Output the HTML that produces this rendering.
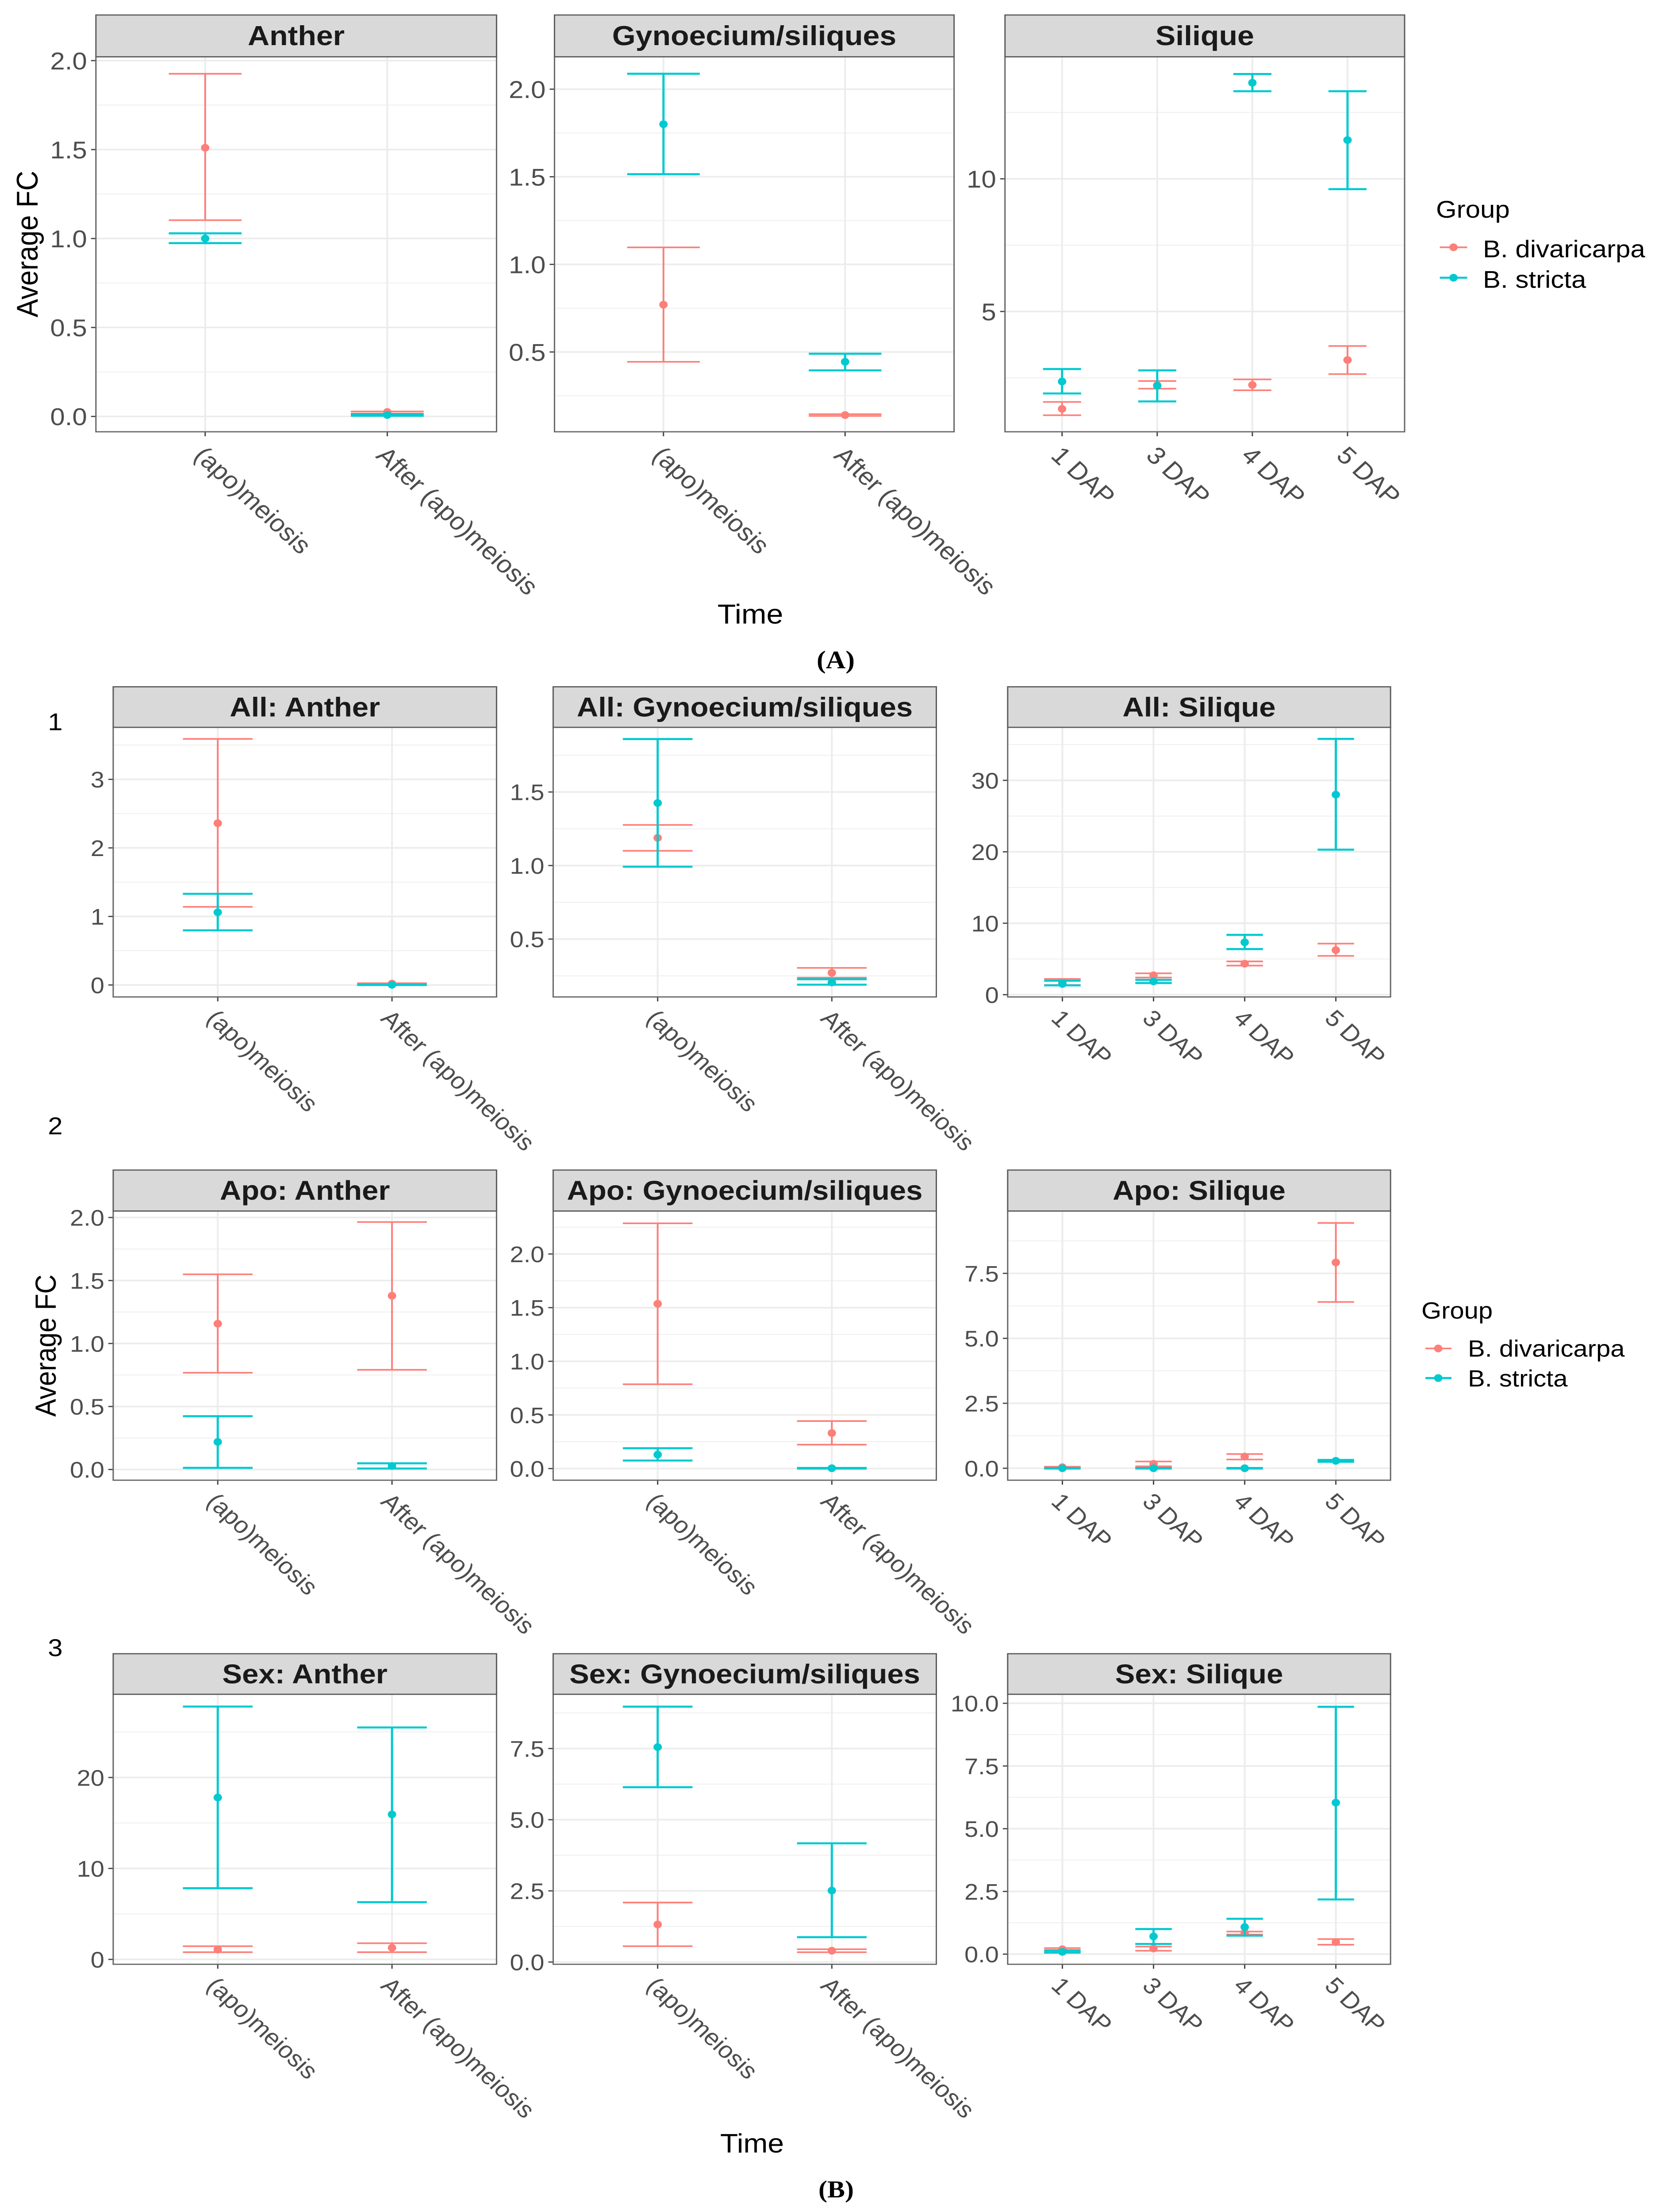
<!DOCTYPE html>
<html lang="en">
<head>
<meta charset="utf-8">
<title>Average FC by time, group and tissue</title>
<style>
html,body{margin:0;padding:0;background:#fff;width:100vw;height:100vh;overflow:hidden;}
svg{display:block;position:fixed;left:0;top:0;width:100vw;height:100vh;overflow:hidden;font-family:"Liberation Sans",Arial,sans-serif;}
</style>
</head>
<body>
<svg id="chart" xmlns="http://www.w3.org/2000/svg" viewBox="0 0 3741 5456" preserveAspectRatio="none">
  <rect x="0" y="0" width="3741" height="5456" fill="#ffffff"/>
  <g id="panels"></g>

  <text x="85" y="602" transform="rotate(-90 85 602)" text-anchor="middle" font-size="68" fill="#000">Average FC</text>
  <text x="1696" y="1538" text-anchor="middle" font-size="68" fill="#000">Time</text>
  <text x="1889" y="1648" text-anchor="middle" font-size="62" font-weight="bold" font-family="Liberation Serif, serif" fill="#000">(A)</text>

  <text x="125" y="1801" text-anchor="middle" font-size="60" fill="#000">1</text>
  <text x="125" y="2798" text-anchor="middle" font-size="60" fill="#000">2</text>
  <text x="125" y="4085" text-anchor="middle" font-size="60" fill="#000">3</text>

  <text x="126" y="3319" transform="rotate(-90 126 3319)" text-anchor="middle" font-size="66" fill="#000">Average FC</text>
  <text x="1700" y="5309" text-anchor="middle" font-size="66" fill="#000">Time</text>
  <text x="1890" y="5420" text-anchor="middle" font-size="60" font-weight="bold" font-family="Liberation Serif, serif" fill="#000">(B)</text>

  <g>
    <text x="3246" y="537" font-size="60" fill="#000">Group</text>
    <g>
      <line x1="3254.6" x2="3316.4" y1="610" y2="610" stroke="#FD7F79" stroke-width="4"/>
      <circle cx="3285.5" cy="610" r="9.5" fill="#FD7F79"/>
      <text x="3352" y="634.5" font-size="60" fill="#000">B. divaricarpa</text>
    </g>
    <g>
      <line x1="3254.6" x2="3316.4" y1="685" y2="685" stroke="#00C9D0" stroke-width="5"/>
      <circle cx="3285.5" cy="685" r="9.5" fill="#00C9D0"/>
      <text x="3352" y="710" font-size="60" fill="#000">B. stricta</text>
    </g>
  </g>

  <g>
    <text x="3213" y="3252.6" font-size="58" fill="#000">Group</text>
    <g>
      <line x1="3222" x2="3281" y1="3326" y2="3326" stroke="#FD7F79" stroke-width="4"/>
      <circle cx="3251" cy="3326" r="9.5" fill="#FD7F79"/>
      <text x="3318" y="3346" font-size="58" fill="#000">B. divaricarpa</text>
    </g>
    <g>
      <line x1="3222" x2="3281" y1="3399" y2="3399" stroke="#00C9D0" stroke-width="5"/>
      <circle cx="3251" cy="3399" r="9.5" fill="#00C9D0"/>
      <text x="3318" y="3420" font-size="58" fill="#000">B. stricta</text>
    </g>
  </g>
</svg>

<script>
// ---- categories ----
const meiosisCategories = ["(apo)meiosis", "After (apo)meiosis"];
const dapCategories = ["1 DAP", "3 DAP", "4 DAP", "5 DAP"];

// ---- tick labels ----
const aAntherTicks = ["0.0", "0.5", "1.0", "1.5", "2.0"];
const aGynTicks = ["0.5", "1.0", "1.5", "2.0"];
const aSilTicks = ["5", "10"];
const allAntherTicks = ["0", "1", "2", "3"];
const allGynTicks = ["0.5", "1.0", "1.5"];
const allSilTicks = ["0", "10", "20", "30"];
const apoAntherTicks = ["0.0", "0.5", "1.0", "1.5", "2.0"];
const apoGynTicks = ["0.0", "0.5", "1.0", "1.5", "2.0"];
const apoSilTicks = ["0.0", "2.5", "5.0", "7.5"];
const sexAntherTicks = ["0", "10", "20"];
const sexGynTicks = ["0.0", "2.5", "5.0", "7.5"];
const sexSilTicks = ["0.0", "2.5", "5.0", "7.5", "10.0"];

// ---- series values: (A) Anther ----
const aAntherDivMean = [1.51, 0.025];
const aAntherDivLow = [1.103, 0.016];
const aAntherDivHigh = [1.926, 0.028];
const aAntherStrMean = [1.0, 0.008];
const aAntherStrLow = [0.974, 0.004];
const aAntherStrHigh = [1.029, 0.012];
// (A) Gynoecium/siliques
const aGynDivMean = [0.77, 0.14];
const aGynDivLow = [0.444, 0.135];
const aGynDivHigh = [1.097, 0.145];
const aGynStrMean = [1.8, 0.444];
const aGynStrLow = [1.515, 0.395];
const aGynStrHigh = [2.088, 0.49];
// (A) Silique
const aSilDivMean = [1.33, 2.22, 2.23, 3.17];
const aSilDivLow = [1.09, 2.09, 2.03, 2.64];
const aSilDivHigh = [1.59, 2.38, 2.44, 3.7];
const aSilStrMean = [2.36, 2.2, 13.62, 11.46];
const aSilStrLow = [1.91, 1.61, 13.3, 9.61];
const aSilStrHigh = [2.83, 2.78, 13.95, 13.3];
// All: Anther
const allAntherDivMean = [2.36, 0.02];
const allAntherDivLow = [1.14, 0.008];
const allAntherDivHigh = [3.59, 0.026];
const allAntherStrMean = [1.06, 0.002];
const allAntherStrLow = [0.797, 0.0];
const allAntherStrHigh = [1.33, 0.006];
// All: Gynoecium/siliques
const allGynDivMean = [1.188, 0.271];
const allGynDivLow = [1.1, 0.238];
const allGynDivHigh = [1.276, 0.304];
const allGynStrMean = [1.425, 0.205];
const allGynStrLow = [0.992, 0.19];
const allGynStrHigh = [1.86, 0.227];
// All: Silique
const allSilDivMean = [1.63, 2.71, 4.34, 6.24];
const allSilDivLow = [1.36, 2.4, 4.07, 5.43];
const allSilDivHigh = [2.2, 2.99, 4.66, 7.15];
const allSilStrMean = [1.5, 1.86, 7.33, 28.0];
const allSilStrLow = [1.3, 1.63, 6.38, 20.3];
const allSilStrHigh = [1.95, 2.08, 8.37, 35.8];
// Apo: Anther
const apoAntherDivMean = [1.157, 1.379];
const apoAntherDivLow = [0.768, 0.791];
const apoAntherDivHigh = [1.549, 1.964];
const apoAntherStrMean = [0.219, 0.028];
const apoAntherStrLow = [0.013, 0.008];
const apoAntherStrHigh = [0.423, 0.049];
// Apo: Gynoecium/siliques
const apoGynDivMean = [1.536, 0.331];
const apoGynDivLow = [0.786, 0.223];
const apoGynDivHigh = [2.286, 0.443];
const apoGynStrMean = [0.13, 0.003];
const apoGynStrLow = [0.075, 0.0];
const apoGynStrHigh = [0.19, 0.006];
// Apo: Silique
const apoSilDivMean = [0.04, 0.17, 0.45, 7.92];
const apoSilDivLow = [0.02, 0.075, 0.336, 6.4];
const apoSilDivHigh = [0.06, 0.26, 0.547, 9.44];
const apoSilStrMean = [0.0, 0.0, 0.0, 0.286];
const apoSilStrLow = [-0.01, -0.01, -0.01, 0.25];
const apoSilStrHigh = [0.01, 0.01, 0.01, 0.32];
// Sex: Anther
const sexAntherDivMean = [1.08, 1.28];
const sexAntherDivLow = [0.79, 0.79];
const sexAntherDivHigh = [1.45, 1.78];
const sexAntherStrMean = [17.8, 15.94];
const sexAntherStrLow = [7.83, 6.29];
const sexAntherStrHigh = [27.8, 25.5];
// Sex: Gynoecium/siliques
const sexGynDivMean = [1.32, 0.397];
const sexGynDivLow = [0.556, 0.344];
const sexGynDivHigh = [2.09, 0.45];
const sexGynStrMean = [7.55, 2.51];
const sexGynStrLow = [6.14, 0.873];
const sexGynStrHigh = [8.97, 4.17];
// Sex: Silique
const sexSilDivMean = [0.195, 0.225, 0.855, 0.48];
const sexSilDivLow = [0.105, 0.135, 0.78, 0.375];
const sexSilDivHigh = [0.24, 0.3, 0.9, 0.6];
const sexSilStrMean = [0.09, 0.706, 1.08, 6.04];
const sexSilStrLow = [0.06, 0.405, 0.736, 2.18];
const sexSilStrHigh = [0.15, 1.0, 1.41, 9.86];

// ---- layout (not data) ----
const NS = "http://www.w3.org/2000/svg";
const RED = "#FD7F79";
const TEAL = "#00C9D0";
const rowA = {stripTop: 37, top: 140, bottom: 1065, tickSize: 60, xSize: 60, xOff: 62, stripSize: 68};
const rowAll = {stripTop: 1694, top: 1794, bottom: 2459, tickSize: 56, xSize: 57, xOff: 56, stripSize: 67};
const rowApo = {stripTop: 2886, top: 2987, bottom: 3651, tickSize: 56, xSize: 57, xOff: 56, stripSize: 67};
const rowSex = {stripTop: 4079, top: 4179, bottom: 4845, tickSize: 56, xSize: 57, xOff: 56, stripSize: 67};
const colsA = [[216.8, 1122.4], [1253.4, 2156.6], [2271.7, 3175]];
const colsB = [[255.9, 1122.4], [1250.4, 2116.5], [2277.8, 3143.2]];

function make(tag, attrs, parent, text) {
  const el = document.createElementNS(NS, tag);
  for (const k in attrs) el.setAttribute(k, attrs[k]);
  if (text !== undefined) el.textContent = text;
  parent.appendChild(el);
  return el;
}

function xScale(i, n, left, right) {
  return left + (i + 0.6) / (n + 0.2) * (right - left);
}
function yScale(v, domain, row) {
  return row.bottom - (v - domain[0]) / (domain[1] - domain[0]) * (row.bottom - row.top);
}

function drawSeries(group, key, color, width, cats, mean, low, high, domain, row, col) {
  const n = cats.length;
  const unit = (col[1] - col[0]) / (n + 0.2);
  cats.forEach(function (cat, i) {
    const cx = xScale(i, n, col[0], col[1]);
    const yHi = yScale(high[i], domain, row);
    const yLo = yScale(low[i], domain, row);
    const yMean = yScale(mean[i], domain, row);
    const bar = make("g", {}, group);
    
    
    make("line", {x1: cx, x2: cx, y1: yHi, y2: yLo, stroke: color, "stroke-width": width}, bar);
    make("line", {x1: cx - 0.2 * unit, x2: cx + 0.2 * unit, y1: yHi, y2: yHi, stroke: color, "stroke-width": width}, bar);
    make("line", {x1: cx - 0.2 * unit, x2: cx + 0.2 * unit, y1: yLo, y2: yLo, stroke: color, "stroke-width": width}, bar);
    const dot = make("circle", {cx: cx, cy: yMean, r: 9.5, fill: color}, group);
    
    
  });
}

function drawPanel(p) {
  const root = document.getElementById("panels");
  const row = p.row, col = p.col, domain = p.domain;
  const left = col[0], right = col[1];
  const g = make("g", {}, root);
  
  

  const bg = make("rect", {x: left, y: row.top, width: right - left, height: row.bottom - row.top, fill: "#fff"}, g);
  
  

  // horizontal gridlines and y axis
  const tickVals = p.ticks.map(parseFloat);
  const step = tickVals.length > 1 ? tickVals[1] - tickVals[0] : 1;
  for (let k = -1; k < tickVals.length; k++) {
    const mv = tickVals[0] + (k + 0.5) * step;
    if (mv <= domain[0] || mv >= domain[1]) continue;
    const my = yScale(mv, domain, row);
    const minor = make("line", {x1: left, x2: right, y1: my, y2: my, stroke: "#efefef", "stroke-width": 2.2}, g);
    
    
  }
  p.ticks.forEach(function (label) {
    const ty = yScale(parseFloat(label), domain, row);
    const grid = make("line", {x1: left, x2: right, y1: ty, y2: ty, stroke: "#ececec", "stroke-width": 4}, g);
    
    
    const tick = make("line", {x1: left - 11, x2: left, y1: ty, y2: ty, stroke: "#444", "stroke-width": 3}, g);
    
    
    const txt = make("text", {x: left - 20, y: ty + row.tickSize * 0.36, "text-anchor": "end", "font-size": row.tickSize, fill: "#4D4D4D"}, g, label);
    
    
  });

  // vertical gridlines and x axis
  p.cats.forEach(function (cat, i) {
    const cx = xScale(i, p.cats.length, left, right);
    const grid = make("line", {x1: cx, x2: cx, y1: row.top, y2: row.bottom, stroke: "#ececec", "stroke-width": 4}, g);
    
    
    const tick = make("line", {x1: cx, x2: cx, y1: row.bottom, y2: row.bottom + 11, stroke: "#444", "stroke-width": 3}, g);
    
    
    const lx = cx - 28;
    const ly = row.bottom + row.xOff;
    const txt = make("text", {x: lx, y: ly, transform: "rotate(45 " + lx + " " + ly + ")", "font-size": row.xSize, fill: "#4D4D4D"}, g, cat);
    
    
  });

  // data
  const divGroup = make("g", {}, g);
  
  
  drawSeries(divGroup, "div", RED, 4, p.cats, p.divMean, p.divLow, p.divHigh, domain, row, col);
  const strGroup = make("g", {}, g);
  
  
  drawSeries(strGroup, "str", TEAL, 5, p.cats, p.strMean, p.strLow, p.strHigh, domain, row, col);

  // border and strip
  const border = make("rect", {x: left, y: row.top, width: right - left, height: row.bottom - row.top, fill: "none", stroke: "#666", "stroke-width": 3}, g);
  
  
  const strip = make("rect", {x: left, y: row.stripTop, width: right - left, height: row.top - row.stripTop, fill: "#D9D9D9", stroke: "#5c5c5c", "stroke-width": 3}, g);
  
  
  const title = make("text", {x: (left + right) / 2, y: (row.stripTop + row.top) / 2 + 23, "text-anchor": "middle", "font-size": row.stripSize, "font-weight": "bold", fill: "#1A1A1A"}, g, p.title);
  
  
}

drawPanel({title: "Anther", row: rowA, col: colsA[0], domain: [-0.0863, 2.0216], ticks: aAntherTicks, cats: meiosisCategories,
  divMean: aAntherDivMean, divLow: aAntherDivLow, divHigh: aAntherDivHigh, strMean: aAntherStrMean, strLow: aAntherStrLow, strHigh: aAntherStrHigh});
drawPanel({title: "Gynoecium/siliques", row: rowA, col: colsA[1], domain: [0.0446, 2.185], ticks: aGynTicks, cats: meiosisCategories,
  divMean: aGynDivMean, divLow: aGynDivLow, divHigh: aGynDivHigh, strMean: aGynStrMean, strLow: aGynStrLow, strHigh: aGynStrHigh});
drawPanel({title: "Silique", row: rowA, col: colsA[2], domain: [0.466, 14.6], ticks: aSilTicks, cats: dapCategories,
  divMean: aSilDivMean, divLow: aSilDivLow, divHigh: aSilDivHigh, strMean: aSilStrMean, strLow: aSilStrLow, strHigh: aSilStrHigh});

drawPanel({title: "All: Anther", row: rowAll, col: colsB[0], domain: [-0.1745, 3.759], ticks: allAntherTicks, cats: meiosisCategories,
  divMean: allAntherDivMean, divLow: allAntherDivLow, divHigh: allAntherDivHigh, strMean: allAntherStrMean, strLow: allAntherStrLow, strHigh: allAntherStrHigh});
drawPanel({title: "All: Gynoecium/siliques", row: rowAll, col: colsB[1], domain: [0.1066, 1.9396], ticks: allGynTicks, cats: meiosisCategories,
  divMean: allGynDivMean, divLow: allGynDivLow, divHigh: allGynDivHigh, strMean: allGynStrMean, strLow: allGynStrLow, strHigh: allGynStrHigh});
drawPanel({title: "All: Silique", row: rowAll, col: colsB[2], domain: [-0.317, 37.42], ticks: allSilTicks, cats: dapCategories,
  divMean: allSilDivMean, divLow: allSilDivLow, divHigh: allSilDivHigh, strMean: allSilStrMean, strLow: allSilStrLow, strHigh: allSilStrHigh});

drawPanel({title: "Apo: Anther", row: rowApo, col: colsB[0], domain: [-0.085, 2.0515], ticks: apoAntherTicks, cats: meiosisCategories,
  divMean: apoAntherDivMean, divLow: apoAntherDivLow, divHigh: apoAntherDivHigh, strMean: apoAntherStrMean, strLow: apoAntherStrLow, strHigh: apoAntherStrHigh});
drawPanel({title: "Apo: Gynoecium/siliques", row: rowApo, col: colsB[1], domain: [-0.1084, 2.4006], ticks: apoGynTicks, cats: meiosisCategories,
  divMean: apoGynDivMean, divLow: apoGynDivLow, divHigh: apoGynDivHigh, strMean: apoGynStrMean, strLow: apoGynStrLow, strHigh: apoGynStrHigh});
drawPanel({title: "Apo: Silique", row: rowApo, col: colsB[2], domain: [-0.46, 9.9], ticks: apoSilTicks, cats: dapCategories,
  divMean: apoSilDivMean, divLow: apoSilDivLow, divHigh: apoSilDivHigh, strMean: apoSilStrMean, strLow: apoSilStrLow, strHigh: apoSilStrHigh});

drawPanel({title: "Sex: Anther", row: rowSex, col: colsB[0], domain: [-0.538, 29.15], ticks: sexAntherTicks, cats: meiosisCategories,
  divMean: sexAntherDivMean, divLow: sexAntherDivLow, divHigh: sexAntherDivHigh, strMean: sexAntherStrMean, strLow: sexAntherStrLow, strHigh: sexAntherStrHigh});
drawPanel({title: "Sex: Gynoecium/siliques", row: rowSex, col: colsB[1], domain: [-0.079, 9.405], ticks: sexGynTicks, cats: meiosisCategories,
  divMean: sexGynDivMean, divLow: sexGynDivLow, divHigh: sexGynDivHigh, strMean: sexGynStrMean, strLow: sexGynStrLow, strHigh: sexGynStrHigh});
drawPanel({title: "Sex: Silique", row: rowSex, col: colsB[2], domain: [-0.405, 10.36], ticks: sexSilTicks, cats: dapCategories,
  divMean: sexSilDivMean, divLow: sexSilDivLow, divHigh: sexSilDivHigh, strMean: sexSilStrMean, strLow: sexSilStrLow, strHigh: sexSilStrHigh});
</script>
</body>
</html>
